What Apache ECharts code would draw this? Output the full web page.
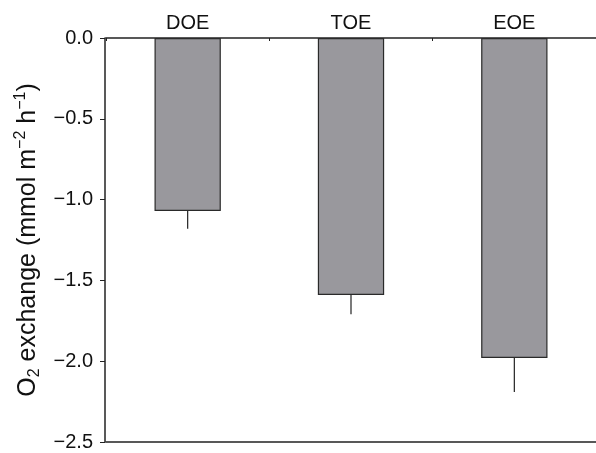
<!DOCTYPE html>
<html>
<head>
<meta charset="utf-8">
<script src="https://cdn.jsdelivr.net/npm/echarts@6/dist/echarts.min.js"></script>
<style>
  html, body { margin: 0; padding: 0; background: #fff; }
  #chart { width: 596px; height: 453px; }
</style>
</head>
<body>
<div id="chart"></div>
<script>
// O2 exchange per treatment, mean and standard error
const categories = ['DOE', 'TOE', 'EOE'];
const meanValues = [-1.07, -1.59, -1.98];
const errorValues = [0.11, 0.12, 0.21];
const yTickValues = [0.0, -0.5, -1.0, -1.5, -2.0, -2.5];

const FONT = '"Liberation Sans", Arial, Helvetica, sans-serif';
const INK = '#222222';

const errorData = categories.map((c, i) => [i, meanValues[i], errorValues[i]]);

const chart = echarts.init(document.getElementById('chart'), null, { renderer: 'canvas' });

chart.setOption({
  animation: false,
  backgroundColor: '#ffffff',
  grid: { left: 106, right: 0, top: 38, bottom: 11, containLabel: false },
  xAxis: [
    {
      type: 'category',
      position: 'top',
      data: categories,
      boundaryGap: true,
      axisLine: { show: true, onZero: false, lineStyle: { color: INK, width: 1.5 } },
      axisTick: { show: true, inside: true, length: 3, lineStyle: { color: INK, width: 1 } },
      axisLabel: { color: '#111', fontFamily: FONT, fontSize: 20, margin: 5 },
      splitLine: { show: false }
    },
    {
      type: 'category',
      position: 'bottom',
      data: categories,
      axisLine: { show: true, onZero: false, lineStyle: { color: INK, width: 1.5 } },
      axisTick: { show: false },
      axisLabel: { show: false },
      splitLine: { show: false }
    }
  ],
  yAxis: {
    type: 'value',
    min: -2.5,
    max: 0,
    interval: 0.5,
    offset: 1,
    axisLine: { show: true, onZero: false, lineStyle: { color: INK, width: 1.5 } },
    axisTick: { show: true, length: 5, lineStyle: { color: INK, width: 1 } },
    axisLabel: {
      color: '#111',
      fontFamily: FONT,
      fontSize: 20,
      margin: 12,
      formatter: function (v) {
        const t = yTickValues.find(x => Math.abs(x - v) < 1e-9);
        const s = (t !== undefined ? t : v).toFixed(1);
        return s.replace('-', '\u2212');
      }
    },
    splitLine: { show: false },
    name: 'O{sub|2} exchange (mmol m{sup|\u22122} h{sup|\u22121})',
    nameLocation: 'middle',
    nameGap: 62,
    nameTextStyle: {
      color: '#111',
      fontFamily: FONT,
      fontSize: 25,
      lineHeight: 30,
      rich: {
        sub: { fontFamily: FONT, fontSize: 16, color: '#111', verticalAlign: 'bottom', lineHeight: 17 },
        sup: { fontFamily: FONT, fontSize: 16, color: '#111', verticalAlign: 'top', lineHeight: 17 }
      }
    }
  },
  series: [
    {
      type: 'bar',
      data: meanValues,
      xAxisIndex: 0,
      barWidth: '40.6%',
      itemStyle: { color: '#99989d', borderColor: '#2a2a2a', borderWidth: 1.2 }
    },
    {
      type: 'custom',
      xAxisIndex: 0,
      data: errorData,
      z: 1,
      renderItem: function (params, api) {
        const i = api.value(0);
        const m = api.value(1);
        const e = api.value(2);
        const p0 = api.coord([i, m]);
        const p1 = api.coord([i, m - e]);
        return {
          type: 'line',
          shape: { x1: p0[0], y1: p0[1], x2: p1[0], y2: p1[1] },
          style: { stroke: INK, lineWidth: 1.2 }
        };
      }
    }
  ]
});
</script>
</body>
</html>
